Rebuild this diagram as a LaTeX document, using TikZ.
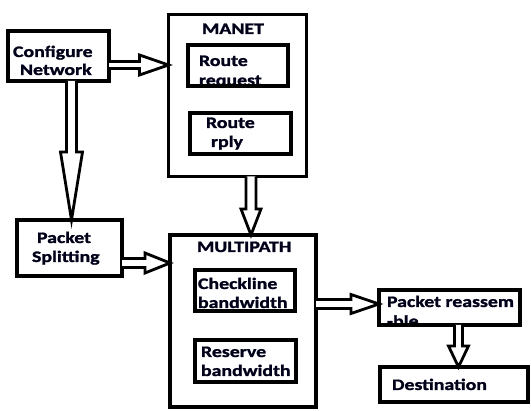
\documentclass[tikz,border=0pt]{standalone}
\usepackage{fontspec}
\setmainfont[FakeStretch=1.24, BoldFeatures={FakeBold=1.5}]{Carlito}
\usetikzlibrary{calc}
\tikzset{
  box/.style={draw=black, line width=4pt, rectangle, inner sep=0pt, outer sep=0pt},
  bigbox/.style={box, line width=3.5pt},
  lbl/.style={anchor=base west, inner sep=0pt, outer sep=0pt, font=\fontsize{16pt}{19pt}\selectfont\bfseries, text=black!90!blue},
  arr/.style={draw=black, line width=2.8pt, line join=miter, fill=white},
}
% horizontal block arrow: start, end, y(px), shaft half, head half, head length
\newcommand\harr[6]{\draw[arr] let \p1=(#1), \p2=(#2) in
  (\x1,-#3pt+#4pt) -- (\x2-#6pt,-#3pt+#4pt) -- (\x2-#6pt,-#3pt+#5pt) -- (\x2,-#3pt)
  -- (\x2-#6pt,-#3pt-#5pt) -- (\x2-#6pt,-#3pt-#4pt) -- (\x1,-#3pt-#4pt);}
% vertical (downward) block arrow: start, end, x(px), shaft half, head half, head length
\newcommand\varr[6]{\draw[arr] let \p1=(#1), \p2=(#2) in
  (#3pt-#4pt,\y1) -- (#3pt-#4pt,\y2+#6pt) -- (#3pt-#5pt,\y2+#6pt) -- (#3pt,\y2)
  -- (#3pt+#5pt,\y2+#6pt) -- (#3pt+#4pt,\y2+#6pt) -- (#3pt+#4pt,\y1);}
\begin{document}
\begin{tikzpicture}[x=1pt,y=-1pt]
\useasboundingbox (0,0) rectangle (531,411);
% texts
\node[lbl] (t1) at (13,57) {Configure};
\node[lbl] (t2) at (20,75) {Network};
\node[lbl] (t3) at (202,34) {MANET};
\node[lbl] (t4) at (199,66) {Route};
\node[lbl] (t5) at (199,85.5) {request};
\node[lbl] (t6) at (206,128) {Route};
\node[lbl] (t7) at (211,147) {rply};
\node[lbl] (t8) at (37,243) {Packet};
\node[lbl] (t9) at (32,262) {Splitting};
\node[lbl] (t10) at (197,252) {MULTIPATH};
\node[lbl] (t11) at (198,289) {Checkline};
\node[lbl] (t12) at (198,308) {bandwidth};
\node[lbl] (t13) at (201,357) {Reserve};
\node[lbl] (t14) at (201,376) {bandwidth};
\node[lbl] (t15) at (387,307) {Packet reassem};
\node[lbl] (t16) at (387,326.5) {-ble};
\node[lbl] (t17) at (392,390) {Destination};
% white cover below the clipped texts (under the box borders)
\fill[white] (187,87) rectangle (292,97);
\fill[white] (378,326) rectangle (524,336);
% boxes
\node[box, minimum width=101pt, minimum height=50pt] (cfg) at (58.5,56) {};
\node[bigbox, minimum width=138pt, minimum height=162pt] (manet) at (237.5,95.5) {};
\node[box, minimum width=100pt, minimum height=41pt] (rreq) at (238,65.5) {};
\node[box, minimum width=101pt, minimum height=41pt] (rrep) at (240.5,133.5) {};
\node[box, minimum width=105pt, minimum height=56pt] (split) at (69.5,248) {};
\node[bigbox, minimum width=146pt, minimum height=172pt] (multi) at (243,321) {};
\node[box, minimum width=100pt, minimum height=41pt] (check) at (245,290.5) {};
\node[box, minimum width=101pt, minimum height=42pt] (reserve) at (245.5,361) {};
\node[box, minimum width=141pt, minimum height=35pt] (reasm) at (449.5,307.5) {};
\node[box, minimum width=148pt, minimum height=35pt] (dest) at (454,384.5) {};
% arrows
\harr{cfg.east}{manet.west}{65}{3.5}{10}{29}
\varr{cfg.south}{split.north}{71.5}{5}{11}{68}
\varr{manet.south}{multi.north}{251}{5}{10}{26}
\harr{split.east}{multi.west}{263}{4.5}{10}{25}
\harr{multi.east}{reasm.west}{304}{4.5}{9.5}{28}
\varr{reasm.south}{dest.north}{458.5}{4}{10}{21}
\end{tikzpicture}
\end{document}
